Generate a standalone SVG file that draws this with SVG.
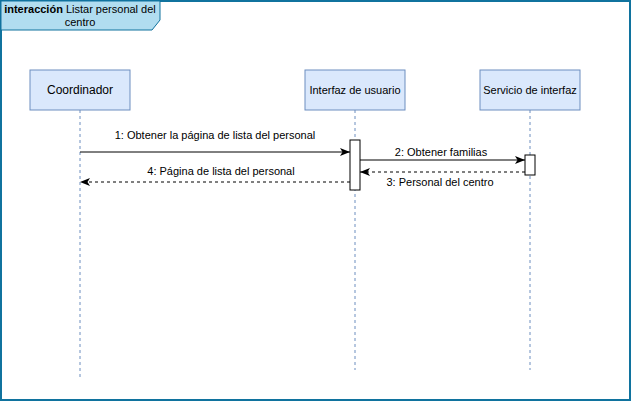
<svg xmlns="http://www.w3.org/2000/svg" width="632" height="402" viewBox="0 0 632 402">
<style>
.frame{fill:#ffffff;stroke:#10739e;stroke-width:2}
.title{fill:#b1ddf0;stroke:#10739e;stroke-width:1}
.box{fill:#dae8fc;stroke:#6c8ebf;stroke-width:1}
.life{stroke:#6c8ebf;stroke-width:1;stroke-dasharray:3 3;fill:none}
.act{fill:#ffffff;stroke:#000000;stroke-width:1}
.msg{stroke:#000000;stroke-width:1;fill:none}
.ret{stroke:#000000;stroke-width:1;fill:none;stroke-dasharray:3 3}
text{font-family:"Liberation Sans",Arial,sans-serif;fill:#000000}
.t11{font-size:11px}
.t12{font-size:12px}
</style>
<defs>
<marker id="arr" markerWidth="10" markerHeight="8" refX="10" refY="4" orient="auto" markerUnits="userSpaceOnUse">
<path d="M0,0 L10,4 L0,8 L2.5,4 z" fill="#000000"/>
</marker>
</defs>
<rect class="frame" x="1" y="1" width="629" height="399"/>
<g id="frame-title">
<path class="title" d="M1,1 L160,1 L160,20 L152,30 L1,30 z"/>
<text class="t11" x="80" y="13" text-anchor="middle"><tspan font-weight="bold">interacción</tspan> Listar personal del</text>
<text class="t11" x="80" y="26" text-anchor="middle">centro</text>
</g>
<g id="coordinador">
<line class="life" x1="80" y1="110" x2="80" y2="378"/>
<rect class="box" x="30" y="70" width="100" height="40"/>
<text class="t12" x="80" y="94" text-anchor="middle">Coordinador</text>
</g>
<g id="interfaz-usuario">
<line class="life" x1="355" y1="110" x2="355" y2="370"/>
<rect class="box" x="305" y="70" width="100" height="40"/>
<text class="t11" x="355" y="94" text-anchor="middle">Interfaz de usuario</text>
<rect class="act" x="350" y="140" width="10" height="50"/>
</g>
<g id="servicio-interfaz">
<line class="life" x1="530" y1="110" x2="530" y2="370"/>
<rect class="box" x="480" y="70" width="100" height="40"/>
<text class="t11" x="530" y="94" text-anchor="middle">Servicio de interfaz</text>
<rect class="act" x="525" y="155" width="10" height="20"/>
</g>
<g id="connectors">
<line class="msg" x1="80" y1="152" x2="350" y2="152" marker-end="url(#arr)"/>
<text class="t11" x="215" y="139" text-anchor="middle">1: Obtener la página de lista del personal</text>
<line class="msg" x1="360" y1="160" x2="525" y2="160" marker-end="url(#arr)"/>
<text class="t11" x="441" y="156" text-anchor="middle">2: Obtener familias</text>
<line class="ret" x1="525" y1="172" x2="360" y2="172" marker-end="url(#arr)"/>
<text class="t11" x="440" y="186" text-anchor="middle">3: Personal del centro</text>
<line class="ret" x1="350" y1="182" x2="80" y2="182" marker-end="url(#arr)"/>
<text class="t11" x="221" y="175" text-anchor="middle">4: Página de lista del personal</text>
</g>
</svg>
